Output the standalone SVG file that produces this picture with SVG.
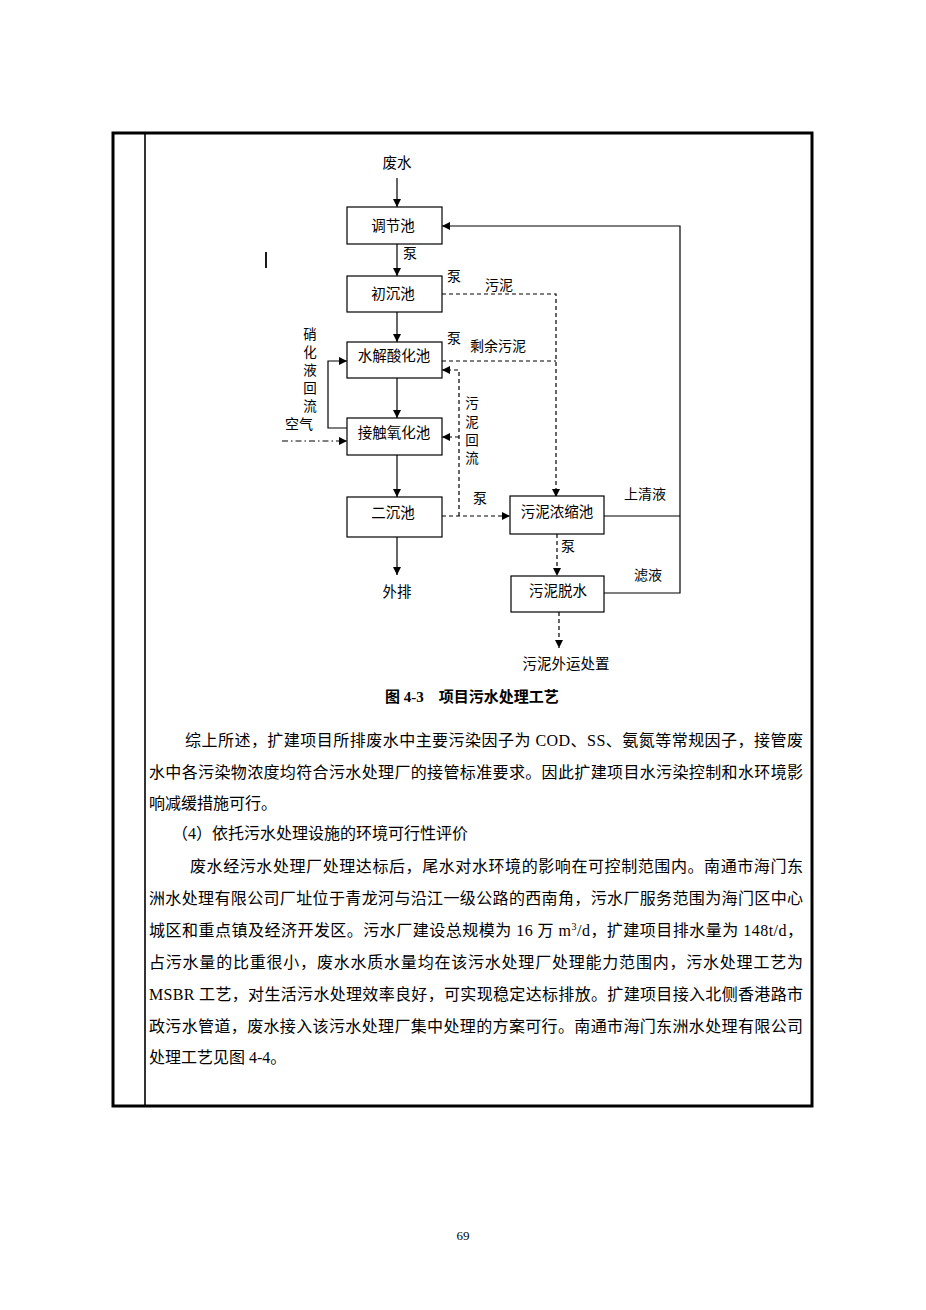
<svg xmlns="http://www.w3.org/2000/svg" width="926" height="1310" viewBox="0 0 926 1310">
<defs>
<marker id="ah" viewBox="0 0 10 10" refX="10" refY="5" markerWidth="8" markerHeight="8" markerUnits="userSpaceOnUse" orient="auto"><path d="M0,0 L10,5 L0,10 z" fill="#000"/></marker>
</defs>
<style>
.box{fill:#fff;stroke:#000;stroke-width:1.2}
.lbl{font-family:"Noto Sans CJK SC","Liberation Sans",sans-serif;font-size:14px;fill:#000}
.vl{font-family:"Noto Sans CJK SC","Liberation Sans",sans-serif;font-size:13.5px;fill:#000;text-anchor:middle}
.bt{font-family:"Noto Sans CJK SC","Liberation Sans",sans-serif;font-size:14.5px;fill:#000;text-anchor:middle}
.ln{fill:none;stroke:#000;stroke-width:1.2}
.ds{fill:none;stroke:#000;stroke-width:1.2;stroke-dasharray:4 3}
.dd{fill:none;stroke:#000;stroke-width:1.2;stroke-dasharray:6 3 1.5 3}
.para{font-family:"Liberation Serif","Noto Sans CJK SC",serif;font-size:16px;fill:#000}
</style>
<rect width="926" height="1310" fill="#fff"/>
<g id="frame">
<rect x="113" y="133" width="699" height="973" fill="none" stroke="#000" stroke-width="3"/>
<line x1="145" y1="133" x2="145" y2="1106" stroke="#000" stroke-width="1.6"/>
<line x1="266" y1="252" x2="266" y2="268" stroke="#000" stroke-width="1.8"/>
</g>
<g id="connectors">
<path class="ln" d="M397,178 V207" marker-end="url(#ah)"/>
<path class="ln" d="M397,244 V276" marker-end="url(#ah)"/>
<path class="ln" d="M397,312 V342" marker-end="url(#ah)"/>
<path class="ln" d="M397,378 V418" marker-end="url(#ah)"/>
<path class="ln" d="M397,455 V497" marker-end="url(#ah)"/>
<path class="ln" d="M397,537 V575" marker-end="url(#ah)"/>
<path class="ln" d="M604,516 H680"/>
<path class="ln" d="M604,593 H680 V226 H442" marker-end="url(#ah)"/>
<path class="ds" d="M442,294 H556 V497" marker-end="url(#ah)"/>
<path class="ds" d="M442,361 H556"/>
<path class="ds" d="M442,516 H510" marker-end="url(#ah)"/>
<path class="ds" d="M459,516 V370 H442" marker-end="url(#ah)"/>
<path class="ds" d="M459,437 H442" marker-end="url(#ah)"/>
<path class="ln" d="M347,428 H328 V361 H347" marker-end="url(#ah)"/>
<path class="dd" d="M282,441 H347" marker-end="url(#ah)"/>
<path class="ds" d="M557,534 V576" marker-end="url(#ah)"/>
<path class="ds" d="M559,612 V648" marker-end="url(#ah)"/>
</g>
<g id="n_feishui"><text class="bt" x="397" y="168">废水</text></g>
<g id="n_tiaojie"><rect class="box" x="347" y="207" width="95" height="37"/><text class="bt" x="393" y="231">调节池</text></g>
<g id="n_chuchen"><rect class="box" x="347" y="276" width="95" height="36"/><text class="bt" x="393" y="299">初沉池</text></g>
<g id="n_shuijie"><rect class="box" x="347" y="342" width="95" height="36"/><text class="bt" x="394" y="361">水解酸化池</text></g>
<g id="n_jiechu"><rect class="box" x="347" y="418" width="95" height="37"/><text class="bt" x="394" y="438">接触氧化池</text></g>
<g id="n_erchen"><rect class="box" x="347" y="497" width="95" height="40"/><text class="bt" x="393" y="518">二沉池</text></g>
<g id="n_waipai"><text class="bt" x="397" y="597">外排</text></g>
<g id="n_nongsuo"><rect class="box" x="510" y="496" width="94" height="38"/><text class="bt" x="557" y="517">污泥浓缩池</text></g>
<g id="n_tuoshui"><rect class="box" x="511" y="576" width="93" height="36"/><text class="bt" x="558" y="596">污泥脱水</text></g>
<g id="n_waiyun"><text class="bt" x="566" y="669">污泥外运处置</text></g>
<g id="labels">
<text class="lbl" x="403" y="258">泵</text>
<text class="lbl" x="447" y="281">泵</text>
<text class="lbl" x="485" y="290">污泥</text>
<text class="lbl" x="447" y="343">泵</text>
<text class="lbl" x="470" y="351">剩余污泥</text>
<text class="lbl" x="473" y="503">泵</text>
<text class="lbl" x="561" y="551">泵</text>
<text class="lbl" x="624" y="499">上清液</text>
<text class="lbl" x="634" y="580">滤液</text>
<text class="lbl" x="285" y="429">空气</text>
<text class="vl" x="310" y="339">硝</text>
<text class="vl" x="310" y="357">化</text>
<text class="vl" x="310" y="375">液</text>
<text class="vl" x="310" y="393">回</text>
<text class="vl" x="310" y="411">流</text>
<text class="vl" x="472" y="408">污</text>
<text class="vl" x="472" y="427">泥</text>
<text class="vl" x="472" y="445">回</text>
<text class="vl" x="472" y="463">流</text>
</g>
<g id="caption"><text x="385" y="702" font-family="Liberation Serif,Noto Sans CJK SC,serif" font-size="15" font-weight="bold">图 4-3　项目污水处理工艺</text></g>
<g id="body">
<text class="para" x="185" y="746" textLength="618" lengthAdjust="spacing">综上所述，扩建项目所排废水中主要污染因子为 COD、SS、氨氮等常规因子，接管废</text>
<text class="para" x="149" y="778" textLength="654" lengthAdjust="spacing">水中各污染物浓度均符合污水处理厂的接管标准要求。因此扩建项目水污染控制和水环境影</text>
<text class="para" x="149" y="809">响减缓措施可行。</text>
<text class="para" x="172" y="839">（4）依托污水处理设施的环境可行性评价</text>
<text class="para" x="190" y="872" textLength="613" lengthAdjust="spacing">废水经污水处理厂处理达标后，尾水对水环境的影响在可控制范围内。南通市海门东</text>
<text class="para" x="149" y="904" textLength="654" lengthAdjust="spacing">洲水处理有限公司厂址位于青龙河与沿江一级公路的西南角，污水厂服务范围为海门区中心</text>
<text class="para" x="149" y="936" textLength="654" lengthAdjust="spacing">城区和重点镇及经济开发区。污水厂建设总规模为 16 万 m<tspan font-size="10" dy="-6">3</tspan><tspan dy="6">/d，扩建项目排水量为 148t/d，</tspan></text>
<text class="para" x="149" y="968" textLength="654" lengthAdjust="spacing">占污水量的比重很小，废水水质水量均在该污水处理厂处理能力范围内，污水处理工艺为</text>
<text class="para" x="149" y="1000" textLength="654" lengthAdjust="spacing">MSBR 工艺，对生活污水处理效率良好，可实现稳定达标排放。扩建项目接入北侧香港路市</text>
<text class="para" x="149" y="1032" textLength="654" lengthAdjust="spacing">政污水管道，废水接入该污水处理厂集中处理的方案可行。南通市海门东洲水处理有限公司</text>
<text class="para" x="149" y="1063">处理工艺见图 4-4。</text>
</g>
<g id="page"><text x="463" y="1240" font-family="Liberation Serif,serif" font-size="13" text-anchor="middle">69</text></g>
</svg>
